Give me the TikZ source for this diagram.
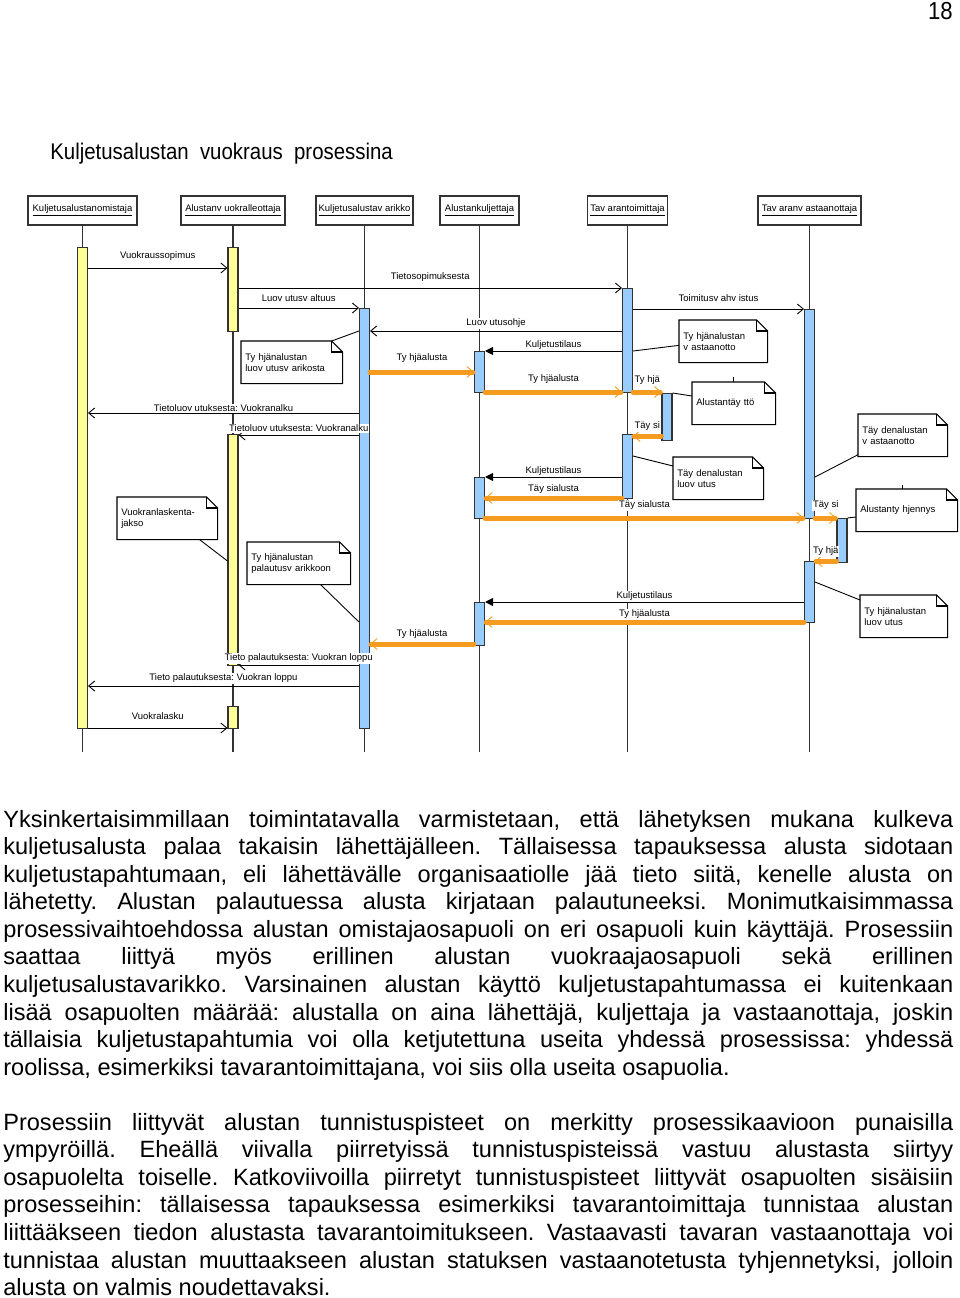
\documentclass[tikz,border=0pt]{standalone}
\usepackage{fontspec}
\setmainfont{Liberation Sans}
\newfontfamily\titlefont[FakeStretch=0.9]{Liberation Sans}
\usetikzlibrary{arrows.meta}
\definecolor{cyel}{HTML}{FFFF99}
\definecolor{cblu}{HTML}{99CCFF}
\definecolor{corg}{HTML}{F59B1F}
\definecolor{cline}{HTML}{333333}
\newcommand{\dfont}{\fontsize{5.4}{6.4}\selectfont}
\newlength{\bodyw}
\setlength{\bodyw}{190mm}
\setlength{\parindent}{0pt}
\frenchspacing
\tikzset{
  head/.style={draw=cline, line width=0.6pt, minimum height=5.8mm, inner sep=0.5pt, minimum width=#1},
  life/.style={draw=cline, line width=0.6pt},
  yact/.style={draw=cline, fill=cyel, line width=0.6pt, minimum width=2mm, inner sep=0pt, anchor=north, minimum height=#1},
  bact/.style={yact=#1, fill=cblu},
  msg/.style={draw=black, line width=0.5pt, -{Straight Barb[length=1.2mm,width=2mm]}},
  call/.style={draw=black, line width=0.5pt, -{Triangle[length=1.6mm,width=1.6mm]}},
  flow/.style={draw=corg, line width=1mm, line cap=round,
    -{Straight Barb[length=1.3mm,width=2.2mm,line width=0.5pt 0]}},
  lbl/.style={fill=white, inner sep=0.4pt, midway, above=#1},
  lbl/.default=1.2mm,
  note/.style={anchor=north west, text width=#1, align=left, minimum height=8.4mm, inner xsep=0.8mm, inner ysep=0pt},
  notefr/.style={draw=black, line width=0.6pt},
  link/.style={draw=black, line width=0.5pt},
}
% folded corner of a note
\newcommand{\dogear}[1]{%
  \draw[notefr] (#1.north west) -- ([xshift=-2.2mm]#1.north east) -- ([yshift=-2.2mm]#1.north east)
    -- (#1.south east) -- (#1.south west) -- cycle;
  \draw[notefr] ([xshift=-2.2mm]#1.north east) |- ([yshift=-2.2mm]#1.north east);}

\begin{document}
\begin{tikzpicture}[x=0.2mm, y=-0.2mm, font=\dfont]
  \useasboundingbox (0,0) rectangle (960,1298);
  \node[anchor=north east, inner sep=0pt, font=\titlefont\fontsize{14}{16}\selectfont] (pageno) at (953,2) {18};
  \node[anchor=west, inner sep=0pt, font=\titlefont\fontsize{12.9}{15}\selectfont] (title) at (50,154)
    {Kuljetusalustan\ \ vuokraus\ \ prosessina};

  % participants
  \node[head=21.8mm] (h1) at (82.5,210.5) {\underline{Kuljetusalustanomistaja}};
  \node[head=20.8mm] (h2) at (233,210.5) {\underline{Alustanv uokralleottaja}};
  \node[head=19.4mm] (h3) at (364.5,210.5) {\underline{Kuljetusalustav arikko}};
  \node[head=15.8mm] (h4) at (479.5,210.5) {\underline{Alustankuljettaja}};
  \node[head=16mm] (h5) at (627.5,210.5) {\underline{Tav arantoimittaja}};
  \node[head=20.6mm] (h6) at (809.5,210.5) {\underline{Tav aranv astaanottaja}};
  \foreach \i in {1,...,6}
    \draw[life] (h\i.south) -- (h\i.south |- 0,752);

  % activations
  \node[yact=96.2mm] (o1) at (h1.south |- 0,247) {};
  \node[yact=16.8mm] (v1) at (h2.south |- 0,247) {};
  \node[yact=46.2mm] (v2) at (h2.south |- 0,434) {};
  \node[yact=4.4mm] (v3) at (h2.south |- 0,706) {};
  \node[bact=84mm] (d1) at (h3.south |- 0,308) {};
  \node[bact=8.2mm] (k1) at (h4.south |- 0,351) {};
  \node[bact=8.2mm] (k2) at (h4.south |- 0,477) {};
  \node[bact=8.6mm] (k3) at (h4.south |- 0,602) {};
  \node[bact=20.8mm] (t1) at (h5.south |- 0,288) {};
  \node[bact=12.8mm] (t2) at (h5.south |- 0,434) {};
  \node[bact=9.4mm] (ts) at (667,393) {};
  \node[bact=41.8mm] (r1) at (h6.south |- 0,309) {};
  \node[bact=8.8mm] (rs) at (842,518) {};
  \node[bact=12.2mm] (r2) at (h6.south |- 0,561) {};

  % notes
  \node[note=18.6mm] (n1) at (241,341) {Ty hjänalustan\\luov utusv arikosta};
  \node[note=16mm] (n2) at (679,320) {Ty hjänalustan\\v astaanotto};
  \node[note=15mm] (n3) at (692,382) {Alustantäy ttö};
  \node[note=16.2mm] (n4) at (858,414) {Täy denalustan\\v astaanotto};
  \node[note=16.4mm] (n5) at (673,457) {Täy denalustan\\luov utus};
  \node[note=18.6mm] (n6) at (856,489) {Alustanty hjennys};
  \node[note=18.4mm] (n7) at (117,497) {Vuokranlaskenta-\\jakso};
  \node[note=19mm] (n8) at (247,542) {Ty hjänalustan\\palautusv arikkoon};
  \node[note=15.8mm] (n9) at (860,595) {Ty hjänalustan\\luov utus};
  \foreach \i in {1,...,9} \dogear{n\i};
  \draw[link] (d1.west |- 0,331) -- ([xshift=-2.2mm]n1.north east);
  \draw[link] (t1.east |- 0,351) -- ([yshift=-0.8mm]n2.west);
  \draw[link] (ts.north east) -- ([yshift=-2.8mm]n3.north west);
  \draw[link] (r1.east |- 0,477) -- ([yshift=0.4mm]n4.south west);
  \draw[link] (t2.east |- 0,456) -- ([yshift=-1.8mm]n5.north west);
  \draw[link] (rs.north east) -- ([yshift=-5.6mm]n6.north west);
  \draw[link] ([xshift=-3.6mm]n7.south east) -- (v2.west |- 0,561);
  \draw[link] ([xshift=-6mm]n8.south east) -- (d1.west |- 0,622);
  \draw[link] (r2.east |- 0,582) -- ([yshift=-1mm]n9.north west);
  \draw[link] (n3.north) -- ++(0,-5);
  \draw[link] ([xshift=-0.8mm]n6.north) -- ++(0,-4);

  % messages
  \draw[msg] (o1.east |- 0,268) -- (v1.west |- 0,268) node[lbl] {Vuokraussopimus};
  \draw[msg] (v1.east |- 0,288) -- (t1.west |- 0,288) node[lbl=1mm] {Tietosopimuksesta};
  \draw[msg] (v1.east |- 0,308) -- (d1.west |- 0,308) node[lbl=1mm] {Luov utusv altuus};
  \draw[msg] (t1.east |- 0,309) -- (r1.west |- 0,309) node[lbl] {Toimitusv ahv istus};
  \draw[msg] (t1.west |- 0,331) -- (d1.east |- 0,331) node[lbl=0.4mm] {Luov utusohje};
  \draw[call] (t1.west |- 0,351) -- (k1.east |- 0,351) node[lbl=0mm] {Kuljetustilaus};
  \draw[flow] (d1.east |- 0,372) -- (k1.west |- 0,372) node[lbl] {Ty hjäalusta};
  \draw[flow] (k1.east |- 0,392) -- (t1.west |- 0,392) node[lbl=1mm] {Ty hjäalusta};
  \draw[flow] (t1.east |- 0,392) -- (ts.west |- 0,392) node[lbl=0.8mm] {Ty hjä};
  \draw[msg] (d1.west |- 0,413) -- (o1.east |- 0,413) node[lbl=0mm] {Tietoluov utuksesta: Vuokranalku};
  \draw[msg] (d1.west |- 0,435) -- (v2.east |- 0,435) node[lbl=0.4mm] {Tietoluov utuksesta: Vuokranalku};
  \draw[flow] (ts.west |- 0,436) -- (t2.east |- 0,436) node[lbl=0.4mm] {Täy si};
  \draw[call] (t2.west |- 0,477) -- (k2.east |- 0,477) node[lbl=0mm] {Kuljetustilaus};
  \draw[flow] (t2.west |- 0,498) -- (k2.east |- 0,498) node[lbl=0.2mm] {Täy sialusta};
  \draw[flow] (k2.east |- 0,518) -- (r1.west |- 0,518) node[lbl=1mm] {Täy sialusta};
  \draw[flow] (r1.east |- 0,518) -- (rs.west |- 0,518) node[lbl=1mm] {Täy si};
  \draw[flow] (rs.west |- 0,561) -- (r2.east |- 0,561) node[lbl=0.4mm] {Ty hjä};
  \draw[call] (r2.west |- 0,602) -- (k3.east |- 0,602) node[lbl=0mm] {Kuljetustilaus};
  \draw[flow] (r2.west |- 0,622) -- (k3.east |- 0,622) node[lbl=0mm] {Ty hjäalusta};
  \draw[flow] (k3.west |- 0,644) -- (d1.east |- 0,644) node[lbl=0.4mm] {Ty hjäalusta};
  \draw[msg] (d1.west |- 0,665) -- (v2.east |- 0,665) node[lbl=0.2mm] {Tieto palautuksesta: Vuokran loppu};
  \draw[msg] (d1.west |- 0,686) -- (o1.east |- 0,686) node[lbl=0.4mm] {Tieto palautuksesta: Vuokran loppu};
  \draw[msg] (o1.east |- 0,728) -- (v3.west |- 0,728) node[lbl=1.4mm] {Vuokralasku};

  % page text
  \node[anchor=north west, inner sep=0pt, text width=\bodyw, align=justify,
    font=\fontsize{13.4}{15.68}\selectfont] (body) at (3,807.5) {%
    \tolerance=10000 \hyphenpenalty=10000 \strut
    Yksinkertaisimmillaan toimintatavalla varmistetaan, että lähetyksen mukana kulkeva\linebreak
    kuljetusalusta palaa takaisin lähettäjälleen. Tällaisessa tapauksessa alusta sidotaan\linebreak
    kuljetustapahtumaan, eli lähettävälle organisaatiolle jää tieto siitä, kenelle alusta on\linebreak
    lähetetty. Alustan palautuessa alusta kirjataan palautuneeksi. Monimutkaisimmassa\linebreak
    prosessivaihtoehdossa alustan omistajaosapuoli on eri osapuoli kuin käyttäjä. Prosessiin\linebreak
    saattaa liittyä myös erillinen alustan vuokraajaosapuoli sekä erillinen\linebreak
    kuljetusalustavarikko. Varsinainen alustan käyttö kuljetustapahtumassa ei kuitenkaan\linebreak
    lisää osapuolten määrää: alustalla on aina lähettäjä, kuljettaja ja vastaanottaja, joskin\linebreak
    tällaisia kuljetustapahtumia voi olla ketjutettuna useita yhdessä prosessissa: yhdessä\linebreak
    roolissa, esimerkiksi tavarantoimittajana, voi siis olla useita osapuolia.\par
    \vspace{15.68pt}\strut
    Prosessiin liittyvät alustan tunnistuspisteet on merkitty prosessikaavioon punaisilla\linebreak
    ympyröillä. Eheällä viivalla piirretyissä tunnistuspisteissä vastuu alustasta siirtyy\linebreak
    osapuolelta toiselle. Katkoviivoilla piirretyt tunnistuspisteet liittyvät osapuolten sisäisiin\linebreak
    prosesseihin: tällaisessa tapauksessa esimerkiksi tavarantoimittaja tunnistaa alustan\linebreak
    liittääkseen tiedon alustasta tavarantoimitukseen. Vastaavasti tavaran vastaanottaja voi\linebreak
    tunnistaa alustan muuttaakseen alustan statuksen vastaanotetusta tyhjennetyksi, jolloin\linebreak
    alusta on valmis noudettavaksi.\par};
\end{tikzpicture}
\end{document}
